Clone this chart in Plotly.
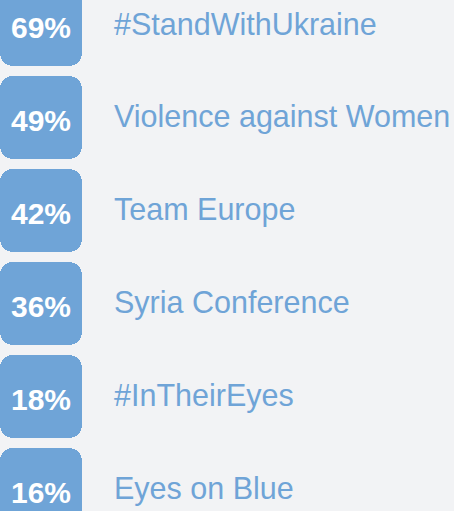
import plotly.graph_objects as go

categories = ["#StandWithUkraine", "Violence against Women", "Team Europe",
              "Syria Conference", "#InTheirEyes", "Eyes on Blue"]
shares = [69, 49, 42, 36, 18, 16]
pct_labels = [f"{v}%" for v in shares]

BLUE = "#6fa4d7"
BG = "#f2f3f5"
positions = list(range(len(categories)))
half = [0.5] * len(categories)

fig = go.Figure()
# each badge drawn as two halves so both ends get rounded corners
fig.add_trace(go.Bar(y=positions, x=half, orientation="h", marker=dict(color=BLUE, cornerradius=13, line=dict(width=0)),
                     width=0.893, hoverinfo="skip", showlegend=False))
fig.add_trace(go.Bar(y=positions, x=[-h for h in half], orientation="h", marker=dict(color=BLUE, cornerradius=13, line=dict(width=0)),
                     width=0.893, hoverinfo="skip", showlegend=False))

annotations = []
for i, (cat, lab) in enumerate(zip(categories, pct_labels)):
    annotations.append(dict(x=0, y=i, xref="x", yref="y", text=f"<b>{lab}</b>", showarrow=False,
                            xanchor="center", yanchor="middle", yshift=-3,
                            font=dict(family="Liberation Sans, Arial, sans-serif", size=30, color="white")))
    annotations.append(dict(x=1, y=i, xref="paper", yref="y", text=cat, showarrow=False,
                            xanchor="left", yanchor="middle", xshift=30, yshift=1,
                            font=dict(family="Liberation Sans, Arial, sans-serif", size=30.5, color=BLUE)))

fig.update_layout(
    barmode="relative",
    width=454, height=511,
    margin=dict(l=0, r=372, t=0, b=0),
    paper_bgcolor=BG, plot_bgcolor=BG,
    xaxis=dict(range=[-0.5, 0.5], visible=False, fixedrange=True),
    yaxis=dict(range=[5.231, -0.269], visible=False, fixedrange=True),
    annotations=annotations,
    bargap=0,
)

fig.write_html("out.html", config={"displayModeBar": False},
               post_script="document.body.style.margin='0';document.body.style.overflow='hidden';")
